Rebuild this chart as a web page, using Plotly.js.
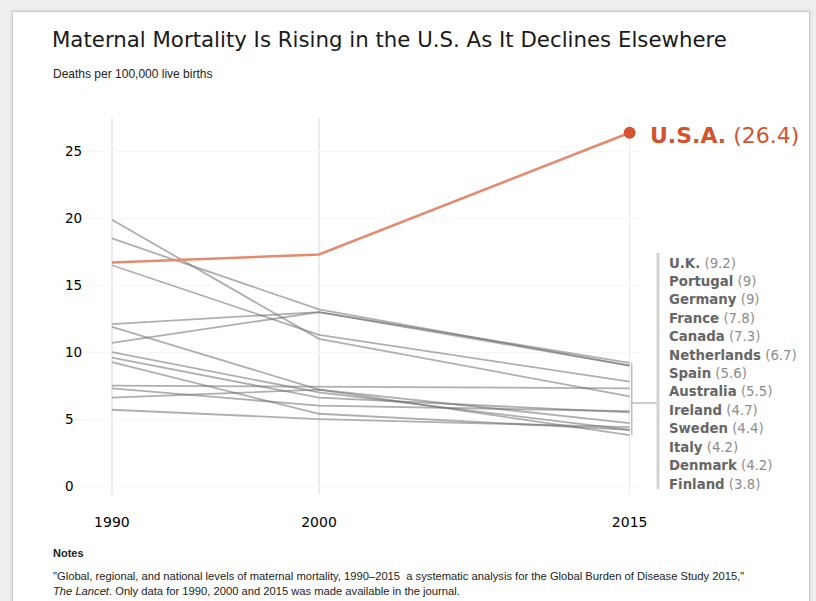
<!DOCTYPE html>
<html>
<head>
<meta charset="utf-8">
<script src="https://cdn.plot.ly/plotly-3.0.1.min.js"></script>
<style>
  html, body { margin:0; padding:0; width:816px; height:601px; overflow:hidden; background:#eeeeee; }
  #card { position:absolute; left:12px; top:11px; width:796px; height:600px; background:#ffffff; border:1px solid #c9c9c9; box-shadow:0 0 3px rgba(0,0,0,0.12); }
  #chart { position:absolute; left:0; top:0; width:816px; height:601px; }
</style>
</head>
<body>
<div id="card"></div>
<div id="chart"></div>
<script>
// ---- data ----
const years = [1990, 2000, 2015];
const countries = ['U.K.', 'Portugal', 'Germany', 'France', 'Canada', 'Netherlands', 'Spain', 'Australia', 'Ireland', 'Sweden', 'Italy', 'Denmark', 'Finland'];
const mmr1990 = [10.7, 18.5, 12.1, 16.5, 7.5, 19.9, 7.3, 9.6, 6.6, 5.7, 10.0, 9.25, 11.9];
const mmr2000 = [13.0, 13.2, 13.0, 11.3, 7.4, 11.0, 6.0, 6.6, 7.2, 5.0, 7.0, 5.4, 7.2];
const mmr2015 = [9.2, 9, 9, 7.8, 7.3, 6.7, 5.6, 5.5, 4.7, 4.4, 4.2, 4.2, 3.8];
const usaName = 'U.S.A.';
const usaValues = [16.7, 17.3, 26.4];
const yTicks = [0, 5, 10, 15, 20, 25];

// ---- layout helpers (pixel -> paper) ----
const L = 62, R = 640, T = 118, B = 494;
const fx = x => (x - L) / (R - L);
const fy = y => (B - y) / (B - T);
const PXU = 13.38;             // pixels per unit on the y axis
const Y0 = 486;                // pixel row of the zero value

const traces = countries.map((c, i) => ({
  x: years,
  y: [mmr1990[i], mmr2000[i], mmr2015[i]],
  type: 'scatter', mode: 'lines', name: c,
  line: { color: 'rgba(110,110,110,0.55)', width: 1.8 },
  hoverinfo: 'skip'
}));
traces.push({
  x: years, y: usaValues, type: 'scatter', mode: 'lines', name: usaName,
  line: { color: '#e68a6e', width: 2.6 }, hoverinfo: 'skip'
});
traces.push({
  x: [years[2]], y: [usaValues[2]], type: 'scatter', mode: 'markers', name: usaName,
  marker: { color: '#d4532d', size: 12 }, hoverinfo: 'skip'
});

const annotations = [];
annotations.push({
  xref: 'paper', yref: 'paper', x: fx(51), y: fy(74), xanchor: 'left', yanchor: 'middle',
  text: 'Deaths per 100,000 live births', showarrow: false,
  font: { family: 'Liberation Sans, Arial, sans-serif', size: 12, color: '#222' }
});
annotations.push({
  xref: 'paper', yref: 'paper', x: fx(648), y: fy(135), xanchor: 'left', yanchor: 'middle',
  text: '<b>' + usaName + '</b> (' + usaValues[2] + ')', showarrow: false,
  font: { family: 'DejaVu Sans, sans-serif', size: 22, color: '#d4532d' }
});
countries.forEach((c, i) => {
  annotations.push({
    xref: 'paper', yref: 'paper', x: fx(667), y: fy(263 + i * 18.42), xanchor: 'left', yanchor: 'middle',
    text: '<b>' + c + '</b> <span style="color:#8c8c8c">(' + mmr2015[i] + ')</span>', showarrow: false,
    font: { family: 'DejaVu Sans, sans-serif', size: 13.3, color: '#666666' }
  });
});
annotations.push({
  xref: 'paper', yref: 'paper', x: fx(51), y: fy(553), xanchor: 'left', yanchor: 'middle',
  text: '<b>Notes</b>', showarrow: false,
  font: { family: 'Liberation Sans, Arial, sans-serif', size: 11, color: '#222' }
});
annotations.push({
  xref: 'paper', yref: 'paper', x: fx(51), y: fy(576), xanchor: 'left', yanchor: 'middle',
  text: '"Global, regional, and national levels of maternal mortality, 1990–2015  a systematic analysis for the Global Burden of Disease Study 2015,"',
  showarrow: false,
  font: { family: 'Liberation Sans, Arial, sans-serif', size: 11.2, color: '#222' }
});
annotations.push({
  xref: 'paper', yref: 'paper', x: fx(51), y: fy(591), xanchor: 'left', yanchor: 'middle',
  text: '<i>The Lancet</i>. Only data for 1990, 2000 and 2015 was made available in the journal.',
  showarrow: false,
  font: { family: 'Liberation Sans, Arial, sans-serif', size: 11.2, color: '#222' }
});

const shapes = [
  { type: 'line', xref: 'x', yref: 'y', x0: 2015.1, x1: 2015.1, y0: Math.min(...mmr2015), y1: Math.max(...mmr2015),
    line: { color: '#bdbdbd', width: 1.5 } },
  { type: 'line', xref: 'paper', yref: 'paper', x0: fx(632), x1: fx(658), y0: fy(403), y1: fy(403),
    line: { color: '#bdbdbd', width: 1.5 } },
  { type: 'line', xref: 'paper', yref: 'paper', x0: fx(658), x1: fx(658), y0: fy(253), y1: fy(489),
    line: { color: '#d3d3d3', width: 3 } }
];

const layout = {
  width: 816, height: 601,
  margin: { l: L, r: 816 - R, t: T, b: 601 - B, pad: 0 },
  paper_bgcolor: 'rgba(0,0,0,0)', plot_bgcolor: 'rgba(0,0,0,0)',
  showlegend: false,
  title: {
    text: 'Maternal Mortality Is Rising in the U.S. As It Declines Elsewhere',
    x: 52 / 816, xanchor: 'left', xref: 'container',
    y: 1 - 40 / 601, yanchor: 'middle', yref: 'container',
    font: { family: 'DejaVu Sans, sans-serif', size: 21.3, color: '#1a1a1a' }
  },
  xaxis: {
    range: [1987.59, 2015.5], tickvals: years, ticktext: years.map(String),
    showgrid: true, gridcolor: '#ebebeb', gridwidth: 1.2, zeroline: false, showline: false,
    ticks: 'outside', ticklen: 15, tickcolor: 'rgba(0,0,0,0)',
    tickfont: { family: 'DejaVu Sans, sans-serif', size: 14, color: '#000' }
  },
  yaxis: {
    range: [-(B - Y0) / PXU, (Y0 - T) / PXU], tickvals: yTicks, ticktext: yTicks.map(String),
    ticklabelposition: 'inside', ticks: '',
    showgrid: true, gridcolor: '#f6f6f6', zeroline: false, showline: false,
    tickfont: { family: 'DejaVu Sans, sans-serif', size: 13.5, color: '#000' }
  },
  annotations: annotations,
  shapes: shapes
};

Plotly.newPlot('chart', traces, layout, { staticPlot: true, displayModeBar: false });
</script>
</body>
</html>
